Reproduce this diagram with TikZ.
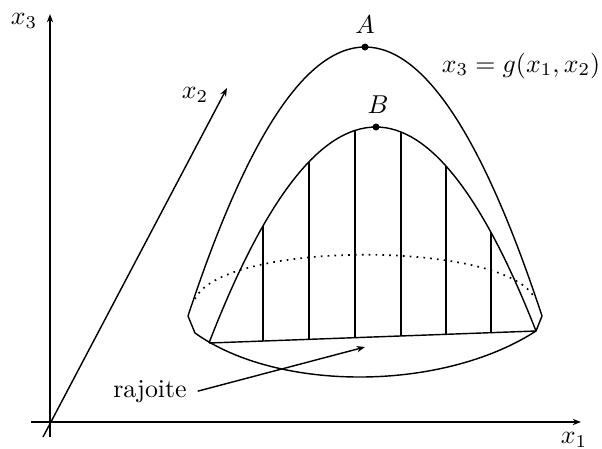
\documentclass[tikz,border=0pt]{standalone}
\usetikzlibrary{arrows.meta}
\begin{document}
\begin{tikzpicture}[x=0.387pt,y=-0.387pt,line width=0.55pt,
  arr/.style={-{Stealth[length=3.2pt,width=2.4pt,inset=1pt]}},
  lbl/.style={inner sep=1pt},
  dot/.style={fill=black}]
\useasboundingbox (0,0) rectangle (602,448);
% axes
\coordinate (v0) at (50,437);
\coordinate (v1) at (50,14);
\coordinate (h0) at (31,422);
\coordinate (h1) at (581,422);
\coordinate (d0) at (43,437);
\coordinate (d1) at (227,88);
\draw[arr] (v0) -- (v1);
\draw[arr] (h0) -- (h1);
\draw[arr] (d0) -- (d1);
\node[lbl] (lx3) at (24,21) {$x_3$};
\node[lbl] (lx1) at (574,440) {$x_1$};
\node[lbl] (lx2) at (195,95) {$x_2$};
% outer surface
\coordinate (L) at (188,316);
\coordinate (A) at (365,47);
\coordinate (R) at (542,316);
\coordinate (Lk) at (195,333);
\coordinate (Rk) at (536,331);
\coordinate (C0) at (209,343);
\coordinate (B) at (376,127);
\draw (L) .. controls (247,136.67) and (306,47) .. (A)
          .. controls (424,47) and (483,136.67) .. (R);
\draw (L) -- (Lk) .. controls (277.6,392) and (441.6,392) .. (Rk) -- (R);
% inner curve and chord
\draw (C0) .. controls (264.67,199) and (320.33,127) .. (B)
           .. controls (429.33,127) and (482.67,195) .. (Rk);
\draw (C0) -- (Rk);
% hatching
\foreach \x/\t/\b in {263/225.9/341.0, 309/161.8/339.3, 355/130.4/337.6, 401/132.0/336.0, 446/166.0/334.3, 491/232.4/332.7}
  \draw (\x,\b) -- (\x,\t);
% dotted curve
\coordinate (Dl) at (195,299);
\coordinate (Dr) at (535,299);
\draw[dotted,line width=0.65pt] (Dl) .. controls (222,240) and (509,240) .. (Dr);
% points
\fill[dot] (A) circle (1.35pt);
\fill[dot] (B) circle (1.35pt);
\node[lbl] (lA) at (365,25) {$A$};
\node[lbl] (lB) at (378,105) {$B$};
\node[lbl,anchor=base east,inner sep=0pt] (lg) at (601,72) {$x_3 = g(x_1,x_2)$};
% rajoite
\node[lbl,inner xsep=4pt,anchor=base] (raj) at (150,397) {rajoite};
\coordinate (tip) at (365,347);
\draw[arr] (raj.east) -- (tip);
\end{tikzpicture}
\end{document}
